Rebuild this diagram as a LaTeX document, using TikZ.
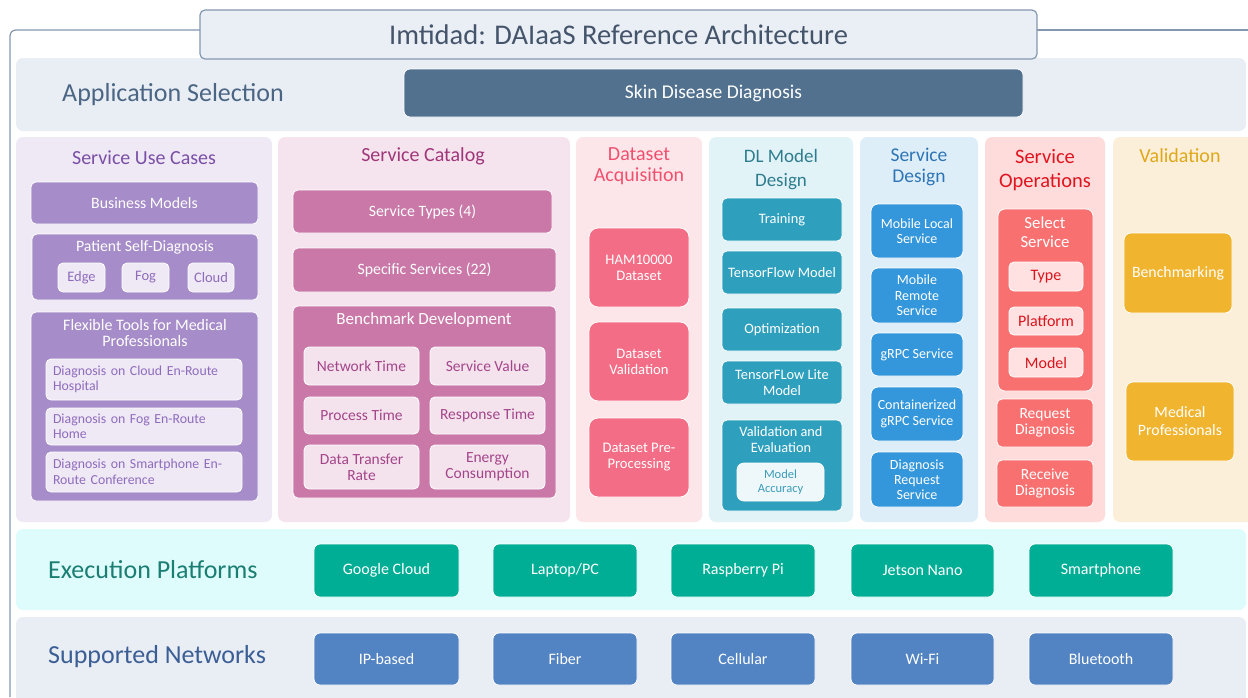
\documentclass[tikz,border=0pt]{standalone}
\usepackage{fontspec}
\setmainfont{Carlito}
\newcommand\fsz[2]{\fontsize{#1}{#2}\selectfont}
\newcommand\bx[8][]{\node[inner sep=0pt,#2,#1,minimum width={(#6-#4)*1pt},minimum height={(#7-#5)*1pt}] (#3) at ({(#4+#6)/2},{(#5+#7)/2}) {#8};}
\definecolor{frameC}{HTML}{8497B0}
\definecolor{titleBg}{HTML}{EAEEF5}
\definecolor{titleTx}{HTML}{44546A}
\definecolor{appBg}{HTML}{E9EDF4}
\definecolor{appTx}{HTML}{4B6584}
\definecolor{skinC}{HTML}{51718F}
\definecolor{sucBg}{HTML}{EFE8F5}
\definecolor{sucTx}{HTML}{7A4FA5}
\definecolor{sucBox}{HTML}{A68CC8}
\definecolor{sucIn}{HTML}{EFE8F5}
\definecolor{sucInTx}{HTML}{8E6CBC}
\definecolor{scBg}{HTML}{F5E4EE}
\definecolor{scTx}{HTML}{A0367A}
\definecolor{scBox}{HTML}{C978A8}
\definecolor{scIn}{HTML}{F4E3ED}
\definecolor{scInTx}{HTML}{A4458A}
\definecolor{daBg}{HTML}{FDE6EA}
\definecolor{daTx}{HTML}{F0506E}
\definecolor{daBox}{HTML}{F26D85}
\definecolor{dlBg}{HTML}{E2F3F7}
\definecolor{dlTx}{HTML}{2E7D8F}
\definecolor{dlBox}{HTML}{2EA0BE}
\definecolor{dlIn}{HTML}{EEF7FA}
\definecolor{dlInTx}{HTML}{3C9CB8}
\definecolor{sdBg}{HTML}{DEEEF9}
\definecolor{sdTx}{HTML}{2E75B6}
\definecolor{sdBox}{HTML}{3497DB}
\definecolor{soBg}{HTML}{FFDCDC}
\definecolor{soTx}{HTML}{E0141E}
\definecolor{soBox}{HTML}{F87070}
\definecolor{soIn}{HTML}{FFE1E1}
\definecolor{soInTx}{HTML}{D9141C}
\definecolor{vaBg}{HTML}{FCEFD9}
\definecolor{vaTx}{HTML}{E0A818}
\definecolor{vaBox}{HTML}{F0B42E}
\definecolor{epBg}{HTML}{DEFCFB}
\definecolor{epTx}{HTML}{1B7E73}
\definecolor{epBox}{HTML}{00AE96}
\definecolor{snBg}{HTML}{E9EDF4}
\definecolor{snTx}{HTML}{3B5E95}
\definecolor{snBox}{HTML}{5283C2}
\begin{document}
\begin{tikzpicture}[x=1pt,y=-1pt,
  panel/.style={rounded corners=7pt, draw=none},
  box/.style={rounded corners=5pt, draw=white, line width=0.8pt, text=white, align=center, font=\fsz{15.8}{18}},
  inbox/.style={rounded corners=5pt, draw=white, line width=0.8pt, align=center, font=\fsz{15.5}{17.5}},
  ctitle/.style={align=center, inner sep=0pt, font=\fsz{20}{21}},
  btitle/.style={align=center, inner sep=0pt, font=\fsz{15.8}{17}, text=white},
  rowlabel/.style={anchor=west, inner sep=0pt, font=\fsz{26}{30}},
  bottom/.style={rounded corners=6pt, draw=white, line width=0.8pt, text=white, font=\fsz{16}{19}}
]
\useasboundingbox (0,0) rectangle (1248,697);
\fill[white] (0,0) rectangle (1248,697);
% application selection band
\bx{panel, fill=appBg}{appband}{16}{58}{1246}{131}{}
\node[rowlabel, text=appTx] (applbl) at (62,95) {Application Selection};
\bx{box, fill=skinC, font=\fsz{19.5}{22}, rounded corners=6pt}{skin}{404}{69}{1023}{117}{Skin Disease Diagnosis}
% frame
\draw[frameC, line width=1.2pt, rounded corners=6pt] (200,30) -- (10,30) -- (10,697);
\draw[frameC, line width=1.2pt] (1037,30) -- (1248,30);
\bx{rounded corners=5pt, fill=titleBg, draw=frameC, line width=1.2pt, text=titleTx, font=\fsz{28.5}{32}}{ttl}{200}{10}{1037}{59}{Imtidad: DAIaaS Reference Architecture}

% ---------- Service Use Cases
\bx{panel, fill=sucBg}{sucP}{16}{137}{272}{522}{}
\node[ctitle, text=sucTx] (sucT) at (144,158) {Service Use Cases};
\bx{box, fill=sucBox}{bm}{31}{182}{258}{224}{Business Models}
\bx{box, fill=sucBox}{psd}{32}{234}{258}{300}{}
\node[btitle] (psdT) at (145,247) {Patient Self-Diagnosis};
\bx{inbox, fill=sucIn, text=sucInTx, font=\fsz{14.5}{16}}{edge}{58}{263}{105}{292}{Edge}
\bx{inbox, fill=sucIn, text=sucInTx, font=\fsz{14.5}{16}}{fog}{122}{263}{169}{292}{Fog}
\bx{inbox, fill=sucIn, text=sucInTx, font=\fsz{14.5}{16}}{cloud}{188}{263}{234}{292}{Cloud}
\bx{box, fill=sucBox}{flex}{31}{312}{258}{501}{}
\node[btitle, font=\fsz{16}{16.5}] (flexT) at (145,333) {Flexible Tools for Medical\\Professionals};
\bx[align=left, text width=182pt, inner xsep=7pt]{inbox, fill=sucIn, text=sucInTx, font=\fsz{13.8}{15.5}}{dc}{46}{359}{242}{400}{Diagnosis on Cloud En-Route\\Hospital}
\bx[align=left, text width=182pt, inner xsep=7pt]{inbox, fill=sucIn, text=sucInTx, font=\fsz{13.8}{15.5}}{df}{46}{408}{242}{445}{Diagnosis on Fog En-Route\\Home}
\bx[align=left, text width=182pt, inner xsep=7pt]{inbox, fill=sucIn, text=sucInTx, font=\fsz{13.8}{15.5}}{ds}{46}{452}{242}{492}{Diagnosis on Smartphone En-\\Route Conference}

% ---------- Service Catalog
\bx{panel, fill=scBg}{scP}{278}{137}{570}{522}{}
\node[ctitle, text=scTx] (scT) at (423,156) {Service Catalog};
\bx{box, fill=scBox}{st}{293}{190}{552}{233}{Service Types (4)}
\bx{box, fill=scBox}{ss}{293}{248}{556}{292}{Specific Services (22)}
\bx{box, fill=scBox}{bd}{293}{306}{556}{498}{}
\node[btitle, font=\fsz{17}{19}] (bdT) at (424,320) {Benchmark Development};
\bx{inbox, fill=scIn, text=scInTx}{nt}{304}{347}{419}{385}{Network Time}
\bx{inbox, fill=scIn, text=scInTx}{sv}{430}{347}{545}{385}{Service Value}
\bx{inbox, fill=scIn, text=scInTx}{pt}{304}{397}{419}{434}{Process Time}
\bx{inbox, fill=scIn, text=scInTx}{rt}{430}{397}{545}{434}{Response Time}
\bx{inbox, fill=scIn, text=scInTx, font=\fsz{15.5}{15.5}}{dtr}{304}{445}{419}{489}{Data Transfer\\Rate}
\bx{inbox, fill=scIn, text=scInTx, font=\fsz{15.5}{15.5}}{ec}{430}{445}{545}{489}{Energy\\Consumption}

% ---------- Dataset Acquisition
\bx{panel, fill=daBg}{daP}{576}{137}{702}{522}{}
\node[ctitle, text=daTx] (daT) at (639,166.5) {Dataset\\Acquisition};
\bx{box, fill=daBox, rounded corners=9pt, font=\fsz{14.6}{16}}{ham}{589}{228}{689}{307}{HAM10000\\Dataset}
\bx{box, fill=daBox, rounded corners=9pt, font=\fsz{14.6}{16}}{dv}{589}{322}{689}{401}{Dataset\\Validation}
\bx{box, fill=daBox, rounded corners=9pt, font=\fsz{14.6}{16}}{dp}{589}{418}{689}{497}{Dataset Pre-\\Processing}

% ---------- DL Model Design
\bx{panel, fill=dlBg}{dlP}{709}{137}{853}{522}{}
\node[ctitle, text=dlTx, font=\fsz{19}{24}] (dlT) at (781,170) {DL Model\\Design};
\bx{box, fill=dlBox, font=\fsz{14.4}{16}}{tr}{722}{198}{842}{241}{Training}
\bx{box, fill=dlBox, font=\fsz{14.4}{16}}{tfm}{722}{251}{842}{294}{TensorFlow Model}
\bx{box, fill=dlBox, font=\fsz{14.4}{16}}{opt}{722}{308}{842}{351}{Optimization}
\bx{box, fill=dlBox, font=\fsz{14.4}{16}}{tfl}{722}{361}{842}{404}{TensorFLow Lite\\Model}
\bx{box, fill=dlBox}{ve}{722}{420}{842}{511}{}
\node[btitle, font=\fsz{14.3}{15.5}] (veT) at (781,439.5) {Validation and\\Evaluation};
\bx{inbox, fill=dlIn, text=dlInTx, font=\fsz{12.5}{14.5}, rounded corners=7pt}{ma}{737}{463}{824}{501}{Model\\Accuracy}

% ---------- Service Design
\bx{panel, fill=sdBg}{sdP}{860}{137}{978}{522}{}
\node[ctitle, text=sdTx, font=\fsz{19.5}{21}] (sdT) at (919,166.5) {Service\\Design};
\bx{box, fill=sdBox, font=\fsz{14}{15.5}, rounded corners=7pt}{mls}{871}{204}{963}{258}{Mobile Local\\Service}
\bx{box, fill=sdBox, font=\fsz{14}{15.5}, rounded corners=7pt}{mrs}{871}{268}{963}{323}{Mobile\\Remote\\Service}
\bx{box, fill=sdBox, font=\fsz{14}{15.5}, rounded corners=7pt}{grpc}{871}{333}{963}{376}{gRPC Service}
\bx{box, fill=sdBox, font=\fsz{14}{15.5}, rounded corners=7pt}{cgrpc}{871}{387}{963}{441}{Containerized\\gRPC Service}
\bx{box, fill=sdBox, font=\fsz{14}{15}, rounded corners=7pt}{drs}{871}{452}{963}{507}{Diagnosis\\Request\\Service}

% ---------- Service Operations
\bx{panel, fill=soBg}{soP}{985}{137}{1105}{522}{}
\node[ctitle, text=soTx, font=\fsz{20.5}{24}] (soT) at (1045,170) {Service\\Operations};
\bx{box, fill=soBox, rounded corners=7pt}{sel}{998}{209}{1093}{391}{}
\node[btitle, font=\fsz{16.8}{18.5}] (selT) at (1045,232) {Select\\Service};
\bx{inbox, fill=soIn, text=soInTx, font=\fsz{16}{17}}{ty}{1009}{262}{1083}{291}{Type}
\bx{inbox, fill=soIn, text=soInTx, font=\fsz{16}{17}}{pf}{1009}{307}{1083}{335}{Platform}
\bx{inbox, fill=soIn, text=soInTx, font=\fsz{16}{17}}{mo}{1009}{348}{1083}{377}{Model}
\bx{box, fill=soBox, font=\fsz{15.5}{16.5}}{req}{997}{399}{1093}{447}{Request\\Diagnosis}
\bx{box, fill=soBox, font=\fsz{15.5}{16.5}}{rec}{997}{460}{1093}{507}{Receive\\Diagnosis}

% ---------- Validation
\bx{panel, fill=vaBg}{vaP}{1113}{137}{1262}{522}{}
\node[ctitle, text=vaTx] (vaT) at (1180,156) {Validation};
\bx{box, fill=vaBox, rounded corners=7pt}{bench}{1124}{233}{1232}{313}{Benchmarking}
\bx{box, fill=vaBox, rounded corners=7pt}{medp}{1126}{382}{1234}{461}{Medical\\Professionals}

% ---------- Execution Platforms
\bx{panel, fill=epBg}{epband}{16}{529}{1246}{610}{}
\node[rowlabel, text=epTx] (eplbl) at (48,570) {Execution Platforms};
\bx{bottom, fill=epBox}{gc}{314}{544}{459}{597}{Google Cloud}
\bx{bottom, fill=epBox}{lp}{493}{544}{637}{597}{Laptop/PC}
\bx{bottom, fill=epBox}{rp}{671}{544}{815}{597}{Raspberry Pi}
\bx{bottom, fill=epBox}{jn}{851}{544}{994}{597}{Jetson Nano}
\bx{bottom, fill=epBox}{sp}{1029}{544}{1173}{597}{Smartphone}

% ---------- Supported Networks
\bx{panel, fill=snBg}{snband}{16}{617}{1246}{710}{}
\node[rowlabel, text=snTx] (snlbl) at (48,657) {Supported Networks};
\bx{bottom, fill=snBox}{ip}{314}{633}{459}{685}{IP-based}
\bx{bottom, fill=snBox}{fi}{493}{633}{637}{685}{Fiber}
\bx{bottom, fill=snBox}{ce}{671}{633}{815}{685}{Cellular}
\bx{bottom, fill=snBox}{wf}{851}{633}{994}{685}{Wi-Fi}
\bx{bottom, fill=snBox}{bt}{1029}{633}{1173}{685}{Bluetooth}
\end{tikzpicture}
\end{document}
